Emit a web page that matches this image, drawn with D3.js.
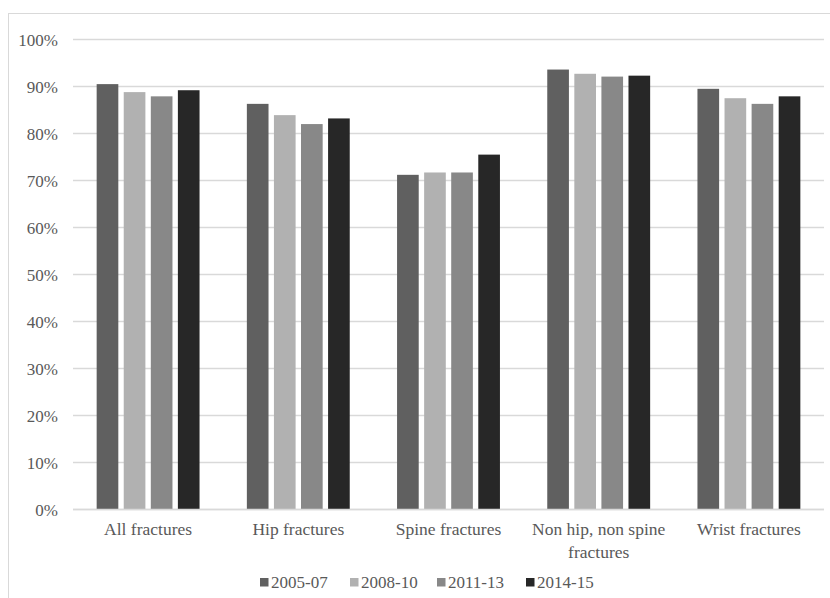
<!DOCTYPE html>
<html>
<head>
<meta charset="utf-8">
<script src="https://cdn.jsdelivr.net/npm/d3@7"></script>
<style>
html, body { margin: 0; padding: 0; background: #fff; }
svg { display: block; }
svg text, svg tspan { font-family: "Liberation Serif" !important; }
</style>
</head>
<body>
<svg id="chart" width="830" height="598" font-family="Liberation Serif"></svg>
<script>
const categories = ["All fractures", "Hip fractures", "Spine fractures", "Non hip, non spine|fractures", "Wrist fractures"];
const seriesNames = ["2005-07", "2008-10", "2011-13", "2014-15"];
const seriesColors = ["#606060", "#b1b1b1", "#888888", "#272727"];
const s2005_07 = [0.904, 0.862, 0.711, 0.935, 0.894];
const s2008_10 = [0.887, 0.838, 0.716, 0.926, 0.874];
const s2011_13 = [0.878, 0.819, 0.716, 0.920, 0.862];
const s2014_15 = [0.891, 0.831, 0.754, 0.922, 0.878];
const yTicks = [0, 0.1, 0.2, 0.3, 0.4, 0.5, 0.6, 0.7, 0.8, 0.9, 1.0];

const series = [s2005_07, s2008_10, s2011_13, s2014_15];
const TXT = "#595959";
const serif = sel => sel.attr("font-family", "Liberation Serif").style("font-family", "Liberation Serif", "important");

const svg = d3.select("#chart");
const W = 830, H = 598;
const m = { left: 73, right: 6, top: 39, bottom: 89 };
const plotW = W - m.left - m.right;
const plotH = H - m.top - m.bottom;

const x0 = d3.scaleBand().domain(categories).range([0, plotW]).paddingInner(0.315).paddingOuter(0.1575);
const x1 = d3.scaleBand().domain(seriesNames).range([0, x0.bandwidth()]).paddingInner(0.2);
const y = d3.scaleLinear().domain([0, 1]).range([plotH, 0]);

const g = svg.append("g").attr("transform", `translate(${m.left},${m.top})`);

// gridlines + tick labels via d3 axis
const yAxis = d3.axisLeft(y).tickValues(yTicks).tickFormat(d3.format(".0%")).tickSize(-plotW).tickPadding(15);
const ya = g.append("g").call(yAxis);
ya.attr("font-family", null).attr("font-size", null);
ya.select(".domain").remove();
ya.selectAll(".tick line").attr("stroke", "#d9d9d9").attr("stroke-width", 1.3);
ya.selectAll(".tick text").attr("fill", TXT).attr("font-size", 17).attr("dy", "0.36em").call(serif);

// bars
const groups = g.selectAll(".grp").data(categories).enter().append("g").attr("class", "grp")
  .attr("transform", d => `translate(${x0(d)},0)`);
groups.selectAll("rect").data((c, ci) => seriesNames.map((s, si) => ({ s, si, v: series[si][ci] })))
  .enter().append("rect")
  .attr("x", d => x1(d.s))
  .attr("y", d => y(d.v))
  .attr("width", x1.bandwidth())
  .attr("height", d => plotH - y(d.v))
  .attr("fill", d => seriesColors[d.si]);

// baseline
g.append("line").attr("x1", 0).attr("x2", plotW).attr("y1", plotH + 0.5).attr("y2", plotH + 0.5)
  .attr("stroke", "#d9d9d9").attr("stroke-width", 1.3);

// x axis labels
const xa = g.append("g").attr("transform", `translate(0,${plotH})`);
categories.forEach(c => {
  const lines = c.split("|");
  const cx = x0(c) + x0.bandwidth() / 2;
  const t = xa.append("text").attr("x", cx).attr("y", 26)
    .attr("text-anchor", "middle").attr("font-size", 17.5).attr("fill", TXT).call(serif);
  lines.forEach((l, i) => t.append("tspan").attr("x", cx).attr("dy", i === 0 ? 0 : 23).text(l));
});

// legend
const legX = [260, 350, 437, 526];
const leg = svg.append("g").attr("transform", `translate(0,588)`);
seriesNames.forEach((s, i) => {
  leg.append("rect").attr("x", legX[i]).attr("y", -10).attr("width", 8.5).attr("height", 8.5).attr("fill", seriesColors[i]);
  leg.append("text").attr("x", legX[i] + 11).attr("y", 0).attr("font-size", 17).attr("fill", TXT).call(serif).text(s);
});

// outer border
svg.append("rect").attr("x", 8.5).attr("y", 13.5).attr("width", 840).attr("height", 620)
  .attr("fill", "none").attr("stroke", "#d9d9d9").attr("stroke-width", 1);
</script>
</body>
</html>
